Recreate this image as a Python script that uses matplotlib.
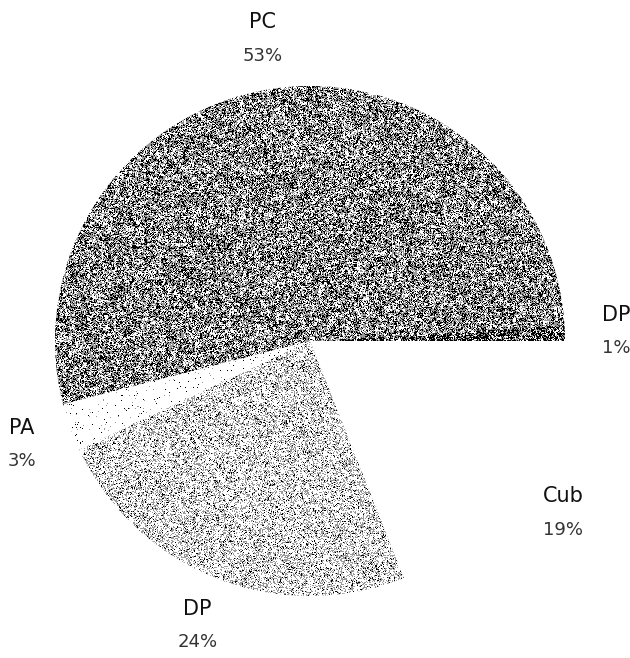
import numpy as np
import matplotlib
matplotlib.use("Agg")
import matplotlib.pyplot as plt

# slice data, counterclockwise from 3 o'clock
labels = ["DP", "PC", "PA", "DP", "Cub"]
values = [1, 53, 3, 24, 19]
pct_labels = ["1%", "53%", "3%", "24%", "19%"]

# stipple per slice: (black share, gray share); None = plain white
textures = [(0.55, 0.25), (0.32, 0.38), (0.015, 0.015), (0.08, 0.32), None]

W, H = 630, 658
cx, cy, R = 310, 341, 255  # pixels

fig = plt.figure(figsize=(W / 100, H / 100), dpi=100)
ax = fig.add_axes([0, 0, 1, 1])
x0, x1 = -cx / R, (W - cx) / R
y0, y1 = -(H - cy) / R, cy / R

wedges, _ = ax.pie(values, startangle=0, counterclock=True, radius=1,
                   wedgeprops=dict(facecolor="none", edgecolor="none"))

rng = np.random.default_rng(3)
# coarse noise so the grain clumps a little, like the scanned texture
coarse = np.kron(rng.random((H // 3 + 1, W // 3 + 1)), np.ones((3, 3)))[:H, :W]
for w, tex in zip(wedges, textures):
    if tex is None:
        continue
    pb, pg = tex
    scale = 0.55 + 0.9 * coarse
    u = rng.random((H, W))
    img = np.ones((H, W))
    img[u < (pb + pg) * scale] = 0.6
    img[u < pb * scale] = 0.0
    im = ax.imshow(img, cmap="gray", vmin=0, vmax=1, extent=(x0, x1, y0, y1),
                   interpolation="nearest", zorder=1)
    im.set_clip_path(w)

# labels outside the slices
for w, name, pct in zip(wedges, labels, pct_labels):
    mid = np.deg2rad((w.theta1 + w.theta2) / 2)
    lx, ly = 1.2 * np.cos(mid), 1.2 * np.sin(mid)
    ax.text(lx, ly + 0.066, name, ha="center", va="center", fontsize=15,
            family="DejaVu Sans", color="#111111")
    ax.text(lx, ly - 0.066, pct, ha="center", va="center", fontsize=13,
            family="DejaVu Sans", color="#333333")

ax.set_xlim(x0, x1)
ax.set_ylim(y0, y1)
ax.set_aspect("equal")
ax.axis("off")

fig.savefig("out.png", dpi=100, facecolor="white")
